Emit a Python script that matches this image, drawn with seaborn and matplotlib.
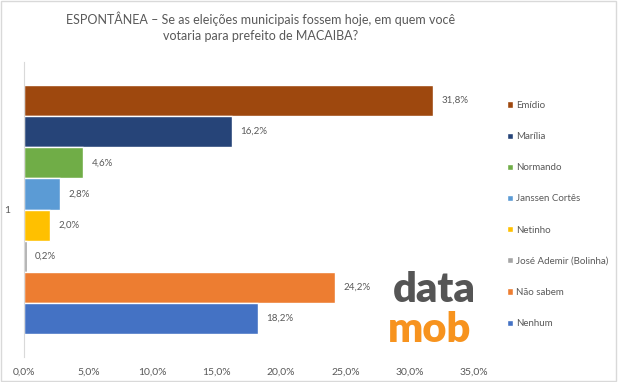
import matplotlib

matplotlib.use("Agg")

import matplotlib.pyplot as plt  # noqa: E402
import pandas as pd  # noqa: E402
import seaborn as sns  # noqa: E402
from matplotlib.patches import Rectangle  # noqa: E402
from matplotlib.ticker import FuncFormatter  # noqa: E402

CATEGORY = ["1"]
CANDIDATES = [
    "Emídio",
    "Marília",
    "Normando",
    "Janssen Cortês",
    "Netinho",
    "José Ademir (Bolinha)",
    "Não sabem",
    "Nenhum",
]
VALUES = [31.8, 16.2, 4.6, 2.8, 2.0, 0.2, 24.2, 18.2]
COLORS = ["#9E480E", "#264478", "#70AD47", "#5B9BD5", "#FFC000", "#A5A5A5", "#ED7D31", "#4472C4"]
XTICKS = [0, 5, 10, 15, 20, 25, 30, 35]

TITLE = "ESPONTÂNEA – Se as eleições municipais fossem hoje, em quem você\nvotaria para prefeito de MACAIBA?"
GRAY = "#595959"

sns.set_theme(style="white")
plt.rcParams["font.family"] = ["Lato", "DejaVu Sans"]

df = pd.DataFrame({
    "cat": CATEGORY * len(CANDIDATES),
    "name": CANDIDATES,
    "value": VALUES,
})

fig = plt.figure(figsize=(6.2, 3.82), dpi=100)
ax = fig.add_axes([24 / 620, 1 - 357 / 382, 450 / 620, 295 / 382])

sns.barplot(
    data=df, x="value", y="cat", hue="name", orient="h",
    hue_order=CANDIDATES, palette=COLORS, width=0.845,
    saturation=1, ax=ax, legend=True, errorbar=None,
)

# value labels to the right of each bar
for cont in ax.containers:
    ax.bar_label(cont, labels=[f"{v:.1f}%".replace(".", ",") for v in cont.datavalues],
                 padding=6, fontsize=7, color=GRAY)

ax.set_xlim(0, 35)
ax.set_xticks(XTICKS)
ax.xaxis.set_major_formatter(FuncFormatter(lambda v, _: f"{v:.1f}%".replace(".", ",")))
ax.tick_params(axis="x", labelsize=7.5, colors=GRAY, length=0, pad=8)
ax.tick_params(axis="y", labelsize=7.5, colors=GRAY, length=0, pad=10)
ax.set_xlabel("")
ax.set_ylabel("")
for side in ("top", "right", "bottom"):
    ax.spines[side].set_visible(False)
ax.spines["left"].set_color("#D9D9D9")
ax.spines["left"].set_linewidth(0.8)

leg = ax.legend(
    loc="upper left", bbox_to_anchor=(503 / 620, 1 - 97 / 382),
    bbox_transform=fig.transFigure, frameon=False, fontsize=7,
    handlelength=0.6, handleheight=0.6, handletextpad=0.3,
    labelspacing=2.28, borderaxespad=0,
)
for t in leg.get_texts():
    t.set_color(GRAY)

fig.text(261 / 620, 1 - 27 / 382, TITLE, ha="center", va="center",
         fontsize=9, color=GRAY, linespacing=1.45)

# watermark logo
fig.text(434 / 620, 1 - 290 / 382, "data", ha="center", va="center",
         fontsize=30, fontweight="heavy", color="#555555")
fig.text(430 / 620, 1 - 330 / 382, "mob", ha="center", va="center",
         fontsize=30, fontweight="heavy", color="#F7931E")

fig.patches.append(Rectangle((0.002, 0.002), 0.992, 0.996, transform=fig.transFigure,
                             fill=False, edgecolor="#D9D9D9", linewidth=1))

fig.savefig("out.png", dpi=100)
plt.close(fig)
